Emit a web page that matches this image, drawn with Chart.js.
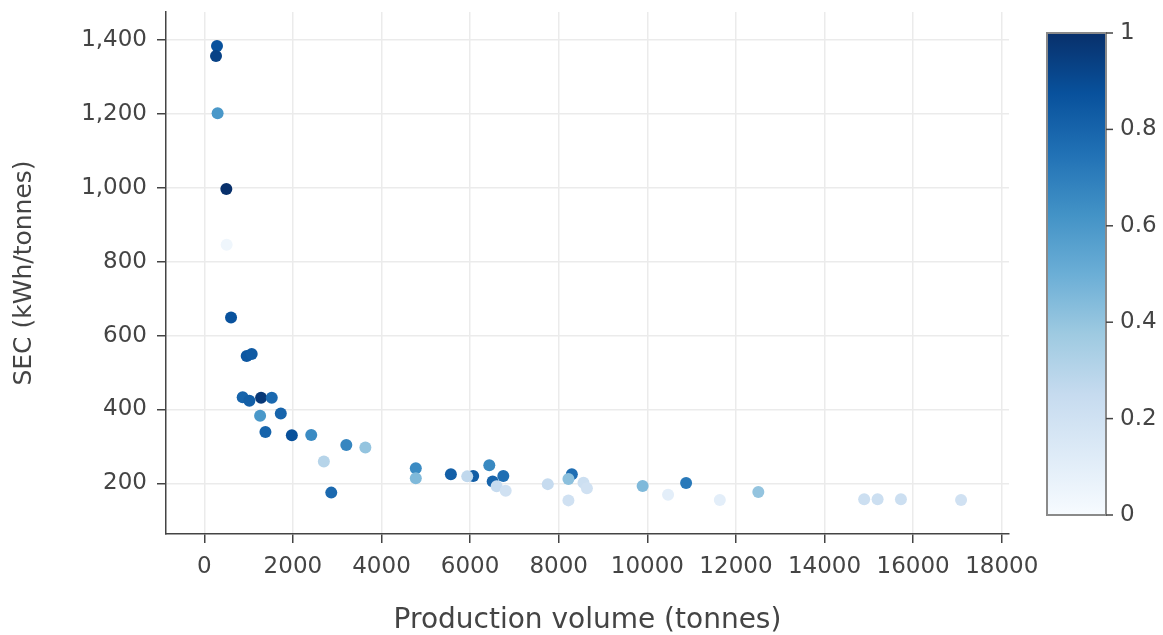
<!DOCTYPE html>
<html>
<head>
<meta charset="utf-8">
<title>SEC vs production volume</title>
<script src="https://cdn.jsdelivr.net/npm/chart.js@4/dist/chart.umd.min.js"></script>
<style>
    body { margin: 0; background: #ffffff; }
    #wrap { width: 1163px; height: 635px; }
</style>
</head>
<body>
<div id="wrap"><canvas id="secChart" width="1163" height="635"></canvas></div>
<script>
// Data
const productionVolume = [
    287, 265, 301, 498, 505, 604, 957, 1070, 867, 1018,
    1282, 1523, 1260, 1727, 1380, 1976, 2414, 3206, 3636, 2699,
    2866, 4774, 4774, 5566, 6070, 5935, 6433, 6749, 6509, 6599,
    6803, 7753, 8296, 8219, 8559, 8636, 8219, 9894, 10468, 10875,
    11636, 12505, 14894, 15197, 15724, 17081
];
const secValues = [
    1384, 1357, 1202, 997, 846, 649, 545, 550, 433, 424,
    432, 432, 383, 389, 339, 330, 331, 304, 297, 259,
    175, 241, 214, 225, 220, 219, 249, 220, 205, 192,
    180, 198, 225, 212, 202, 187, 154, 193, 169, 201,
    155, 177, 157, 157, 157, 155
];
const colorValues = [
    0.87, 0.93, 0.6, 1.0, 0.04, 0.87, 0.85, 0.84, 0.8, 0.82,
    0.97, 0.78, 0.6, 0.8, 0.8, 0.88, 0.65, 0.67, 0.4, 0.3,
    0.78, 0.65, 0.45, 0.82, 0.83, 0.27, 0.66, 0.76, 0.8, 0.25,
    0.2, 0.25, 0.76, 0.42, 0.22, 0.2, 0.2, 0.45, 0.1, 0.72,
    0.1, 0.4, 0.22, 0.22, 0.22, 0.2
];
const xTicks = [0, 2000, 4000, 6000, 8000, 10000, 12000, 14000, 16000, 18000];
const yTicks = [200, 400, 600, 800, 1000, 1200, 1400];
const colorbarTicks = [0, 0.2, 0.4, 0.6, 0.8, 1];

// Blues colour scale
const bluesScale = [
    [0, '#f7fbff'], [0.125, '#deebf7'], [0.25, '#c6dbef'], [0.375, '#9ecae1'],
    [0.5, '#6baed6'], [0.625, '#4292c6'], [0.75, '#2171b5'], [0.875, '#08519c'], [1, '#08306b']
];

function hexToRgb(hex) {
    const n = parseInt(hex.slice(1), 16);
    return [(n >> 16) & 255, (n >> 8) & 255, n & 255];
}

function bluesColor(t) {
    t = Math.max(0, Math.min(1, t));
    for (let i = 1; i < bluesScale.length; i++) {
        if (t <= bluesScale[i][0]) {
            const [t0, c0] = bluesScale[i - 1];
            const [t1, c1] = bluesScale[i];
            const f = (t - t0) / (t1 - t0);
            const a = hexToRgb(c0), b = hexToRgb(c1);
            const rgb = a.map((v, k) => Math.round(v + (b[k] - v) * f));
            return 'rgb(' + rgb.join(',') + ')';
        }
    }
    return bluesScale[bluesScale.length - 1][1];
}

const FONT = "'DejaVu Sans', Verdana, sans-serif";
const TEXT_COLOR = '#444444';

// Plot area edges in the reference
const PLOT_LEFT = 166;
const PLOT_BOTTOM = 534;

// Colorbar drawn next to the plot
const colorbarPlugin = {
    id: 'colorbar',
    afterDraw(chart) {
        const ctx = chart.ctx;
        const left = 1047, right = 1106, top = 33, bottom = 515;
        const grad = ctx.createLinearGradient(0, bottom, 0, top);
        bluesScale.forEach(([stop, color]) => grad.addColorStop(stop, color));
        ctx.save();
        ctx.fillStyle = grad;
        ctx.fillRect(left, top, right - left, bottom - top);
        ctx.strokeStyle = '#8a8a8a';
        ctx.lineWidth = 2;
        ctx.strokeRect(left, top, right - left, bottom - top);

        ctx.strokeStyle = TEXT_COLOR;
        ctx.lineWidth = 1.5;
        ctx.fillStyle = TEXT_COLOR;
        ctx.font = '23px ' + FONT;
        ctx.textAlign = 'left';
        ctx.textBaseline = 'middle';
        colorbarTicks.forEach(v => {
            const y = bottom - v * (bottom - top);
            ctx.beginPath();
            ctx.moveTo(right, y);
            ctx.lineTo(right + 7, y);
            ctx.stroke();
            ctx.fillText(String(v), right + 14, y);
        });
        ctx.restore();
    }
};

new Chart(document.getElementById('secChart').getContext('2d'), {
    type: 'scatter',
    data: {
        datasets: [{
            data: productionVolume.map((x, i) => ({ x: x, y: secValues[i] })),
            pointBackgroundColor: colorValues.map(bluesColor),
            pointBorderWidth: 0,
            pointRadius: 6,
            pointHoverRadius: 6
        }]
    },
    options: {
        responsive: false,
        animation: false,
        layout: {
            padding: { top: 12, right: 154, bottom: 0, left: 0 }
        },
        plugins: {
            legend: { display: false },
            tooltip: { enabled: false }
        },
        scales: {
            x: {
                type: 'linear',
                min: -864,
                max: 18163,
                afterBuildTicks: scale => { scale.ticks = xTicks.map(v => ({ value: v })); },
                afterFit: scale => {
                    scale.height = 635 - PLOT_BOTTOM;
                    scale.paddingLeft = 0;
                    scale.paddingRight = 0;
                },
                ticks: {
                    color: TEXT_COLOR,
                    font: { family: FONT, size: 23 },
                    padding: 10,
                    maxRotation: 0,
                    callback: value => String(value)
                },
                grid: {
                    color: '#ebebeb',
                    lineWidth: 1.5,
                    tickColor: TEXT_COLOR,
                    tickLength: 9,
                    tickWidth: 1.5
                },
                border: { display: true, color: TEXT_COLOR, width: 1.5 },
                title: {
                    display: true,
                    text: 'Production volume (tonnes)',
                    color: TEXT_COLOR,
                    font: { family: FONT, size: 28, lineHeight: 1 },
                    padding: { top: 0, bottom: 0 }
                }
            },
            y: {
                type: 'linear',
                min: 63,
                max: 1476,
                afterBuildTicks: scale => { scale.ticks = yTicks.map(v => ({ value: v })); },
                afterFit: scale => {
                    scale.width = PLOT_LEFT;
                    scale.paddingTop = 0;
                    scale.paddingBottom = 0;
                },
                ticks: {
                    color: TEXT_COLOR,
                    font: { family: FONT, size: 23 },
                    padding: 10,
                    callback: value => value.toLocaleString('en-US')
                },
                grid: {
                    color: '#ebebeb',
                    lineWidth: 1.5,
                    tickColor: TEXT_COLOR,
                    tickLength: 9,
                    tickWidth: 1.5
                },
                border: { display: true, color: TEXT_COLOR, width: 1.5 },
                title: {
                    display: true,
                    text: 'SEC (kWh/tonnes)',
                    color: TEXT_COLOR,
                    font: { family: FONT, size: 25, lineHeight: 1 },
                    padding: { top: 12, bottom: 0 }
                }
            }
        }
    },
    plugins: [colorbarPlugin]
});
</script>
</body>
</html>
